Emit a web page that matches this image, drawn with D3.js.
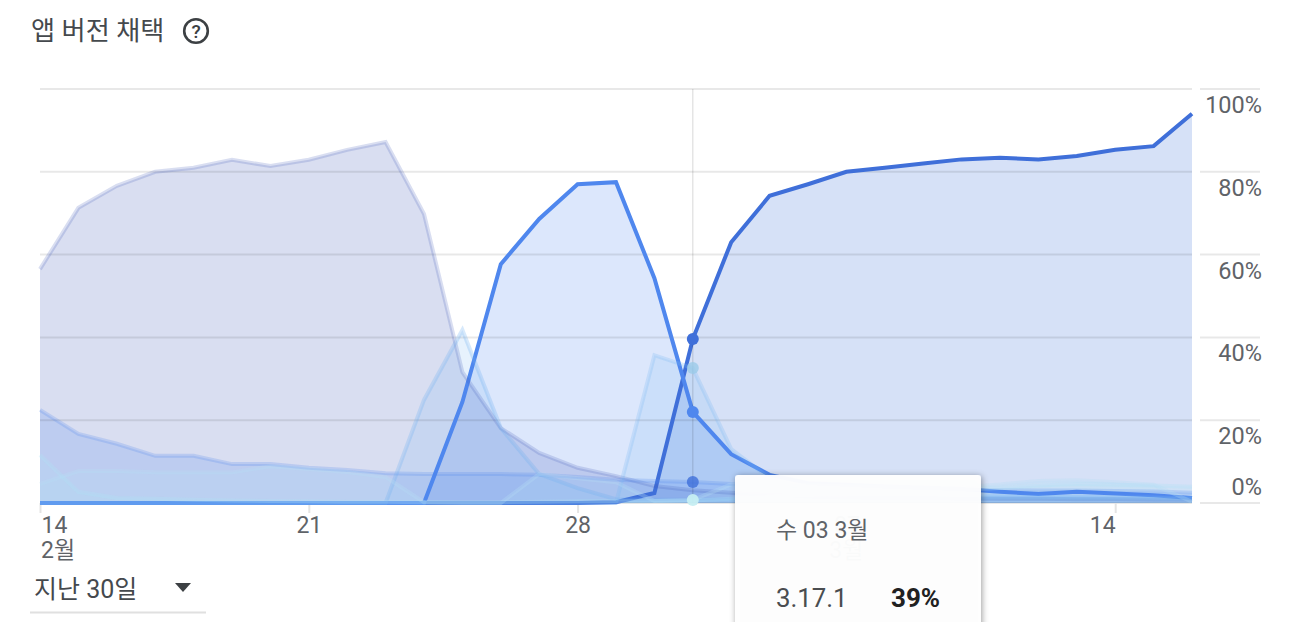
<!DOCTYPE html>
<html lang="ko"><head><meta charset="utf-8">
<script src="https://cdn.jsdelivr.net/npm/d3@7/dist/d3.min.js"></script>
<style>html,body{margin:0;padding:0;background:#fff;overflow:hidden}svg{display:block}
text{font-family:Roboto,"Noto Sans CJK KR",sans-serif}</style></head><body>
<svg id="c" width="1298" height="622"></svg>
<script>
const titleText = "앱 버전 채택";
const rangeText = "지난 30일";
const days = d3.range(31);
const xTickDays = [0, 7, 14, 21, 28];
const xTickLabels = ["14", "21", "28", "07", "14"];
const xMonthLabels = [[0, "2월"], [21, "3월"]];
const yTicks = [0, 20, 40, 60, 80, 100];
const hoverDay = 17;
const tipDate = "수 03 3월", tipVersion = "3.17.1", tipValue = "39%";

const v3171 = [0,0,0,0,0,0,0,0,0,0,0,0,0,0,0,0.2,2.4,39.6,63,74.2,77,80,81,82,83,83.4,83,83.8,85.3,86.2,94];
const vMain2 = [0,0,0,0,0,0,0,0,0,0,0,24.4,57.7,68.6,77,77.5,54.3,22,11.8,6.8,4.8,4.4,4,3.7,3.4,2.7,2.2,2.7,2.3,1.9,1.2];
const vOld1 = [56.5,71.3,76.6,80,81,82.9,81.4,82.9,85.3,87.2,69.8,31.6,18.1,12.1,8.5,6.5,4.1,3.1,2.5,2,1.6,1.4,1.3,1.2,1.1,1,1,.9,.9,.8,.8];
const vOld2 = [22.5,16.7,14.3,11.4,11.4,9.4,9.4,8.5,8,7.2,7,7,7,6.8,6.3,5.6,5.3,5.1,4.6,4.3,4,3.8,3.6,3.4,3.2,3.1,3,3,2.9,2.8,2.5];
const vPeakA = [0,0,0,0,0,0,0,0,0,0,24.9,41.8,18.1,7,3.6,.9,.8,.8,.9,1,1,1.1,1.1,1.1,1.1,1.1,1.1,1.1,1,1,.9];
const vPeakB = [0,0,0,0,0,0,0,0,0,0,0,0,0,0,0,0,35.7,32.6,13,6,3,2.2,1.9,1.7,1.6,1.5,1.5,1.4,1.4,1.3,1.2];
const vPaleA = [4.6,7.7,7.7,7.4,7.4,7.4,8.9,8.2,7.5,6.3,.2,0,0,7,6,5,.5,.7,4.5,4.5,4.2,4,3.9,3.8,3.8,4.5,5.3,5.5,5,4.4,.3];
const vPaleB = [11.6,2.7,1.2,1,.8,.6,.5,.4,.3,.3,.2,.2,.2,.3,.4,.4,.5,.6,1,1.5,2,2.5,3,3,3.2,3.6,4.2,4.6,4.4,4.2,3.9];

const seriesList = [
  {v:v3171,  c:"#3f6fd9", fa:.21, sa:1},
  {v:vMain2, c:"#4f87ee", fa:.2,  sa:1},
  {v:vOld1,  c:"#3f5cb8", fa:.2,  sa:.2},
  {v:vOld2,  c:"#4e86ee", fa:.2,  sa:.22},
  {v:vPeakA, c:"#6fb0f2", fa:.17, sa:.28},
  {v:vPeakB, c:"#78b8f4", fa:.17, sa:.25},
  {v:vPaleA, c:"#b5def6", fa:.22, sa:.3},
  {v:vPaleB, c:"#b0e0f4", fa:.2,  sa:.3}
];

const svg = d3.select("#c");
const x = d3.scaleLinear().domain([0,30]).range([40,1192]);
const y = d3.scaleLinear().domain([0,100]).range([503,89]);
const area = d3.area().x((d,i)=>x(i)).y0(y(0)).y1(d=>y(d));
const line = d3.line().x((d,i)=>x(i)).y(d=>y(d));

// title
svg.append("text").attr("x",31).attr("y",40).attr("font-size",26.2).attr("fill","#45494d").text(titleText);
const help = svg.append("g").attr("transform","translate(196,31)");
help.append("circle").attr("r",11.8).attr("fill","none").attr("stroke","#3c4043").attr("stroke-width",2.6);
help.append("text").attr("text-anchor","middle").attr("y",6.8).attr("font-size",19).attr("font-weight",500).attr("fill","#3c4043").text("?");

// areas
svg.append("g").selectAll("path").data(seriesList).join("path")
  .attr("d",s=>area(s.v)).attr("fill",s=>s.c).attr("fill-opacity",s=>s.fa);

// grid
const grid = svg.append("g");
yTicks.forEach(t=>{
  grid.append("line").attr("x1",40).attr("x2",1192).attr("y1",y(t)).attr("y2",y(t))
    .attr("stroke","#000").attr("stroke-opacity",.09).attr("stroke-width",2);
  grid.append("line").attr("x1",1200).attr("x2",1260).attr("y1",y(t)).attr("y2",y(t))
    .attr("stroke","#000").attr("stroke-opacity",.09).attr("stroke-width",2);
});

// y axis
const yAxis = svg.append("g").attr("transform","translate(1262,0)")
  .call(d3.axisRight(y).tickValues(yTicks).tickSize(0).tickFormat(d=>d+"%"));
yAxis.select(".domain").remove();
yAxis.selectAll("text").attr("x",0).attr("text-anchor","end").attr("dy",null)
  .attr("y",d=>d===0?-9:23.5).attr("font-size",23.5).attr("fill","#5f6368")
  .style("font-family",'Roboto,"Noto Sans CJK KR",sans-serif');

// x axis
const xAxis = svg.append("g").attr("transform","translate(0,503)")
  .call(d3.axisBottom(x).tickValues(xTickDays).tickSize(10).tickFormat((d,i)=>xTickLabels[i]));
xAxis.select(".domain").remove();
xAxis.selectAll("line").attr("stroke","#e4e4e4").attr("stroke-width",2);
xAxis.selectAll("text").attr("y",30).attr("dy",null).attr("font-size",23).attr("fill","#5f6368")
  .style("font-family",'Roboto,"Noto Sans CJK KR",sans-serif')
  .attr("text-anchor",(d,i)=>i===0?"start":(i===4?"end":"middle"))
  .attr("dx",(d,i)=>i===0?1:0);
xMonthLabels.forEach(([d,t])=>{
  svg.append("text").attr("x",d===0?x(d)+1:x(d)).attr("y",558).attr("font-size",23).attr("fill","#5f6368")
    .attr("text-anchor",d===0?"start":"middle").text(t);
});

// strokes
svg.append("g").selectAll("path").data(seriesList).join("path")
  .attr("d",s=>line(s.v)).attr("fill","none").attr("stroke",s=>s.c)
  .attr("stroke-opacity",s=>s.sa).attr("stroke-width",4).attr("stroke-linejoin","miter");

// crosshair + dots
svg.append("line").attr("x1",x(hoverDay)).attr("x2",x(hoverDay)).attr("y1",y(100)).attr("y2",y(0))
  .attr("stroke","#000").attr("stroke-opacity",.13).attr("stroke-width",1.2);
const dotColors = [[v3171,"#3f6fd9",1],[vPeakB,"#9bcbe8",.8],[vMain2,"#4f87ee",1],[vOld2,"#3f6fd9",.8],[vPaleA,"#c6eef2",.95]];
svg.append("g").selectAll("circle").data(dotColors).join("circle")
  .attr("cx",x(hoverDay)).attr("cy",d=>y(d[0][hoverDay])).attr("r",6)
  .attr("fill",d=>d[1]).attr("fill-opacity",d=>d[2]);

// range selector
svg.append("text").attr("x",34).attr("y",598).attr("font-size",25).attr("fill","#45494d").text(rangeText);
svg.append("path").attr("d",d3.line()([[175,583],[191,583],[183,592]])+"Z").attr("fill","#3c4043");
svg.append("line").attr("x1",30).attr("x2",206).attr("y1",612.5).attr("y2",612.5).attr("stroke","#e0e0e0").attr("stroke-width",2);

// tooltip
const defs = svg.append("defs");
const f = defs.append("filter").attr("id","sh").attr("x","-10%").attr("y","-10%").attr("width","120%").attr("height","120%");
f.append("feDropShadow").attr("dx",1).attr("dy",1).attr("stdDeviation",3).attr("flood-color","#000").attr("flood-opacity",.4);
svg.append("rect").attr("x",735).attr("y",475).attr("width",246).attr("height",190).attr("rx",3)
  .attr("fill","#fff").attr("fill-opacity",.96).attr("filter","url(#sh)");
svg.append("text").attr("x",776).attr("y",538).attr("font-size",23).attr("fill","#5f6368").text(tipDate);
svg.append("text").attr("x",776).attr("y",607).attr("font-size",25.8).attr("fill","#4a4d50").text(tipVersion);
svg.append("text").attr("x",891).attr("y",607).attr("font-size",26).attr("font-weight",700).attr("fill","#212121").text(tipValue);
</script></body></html>
